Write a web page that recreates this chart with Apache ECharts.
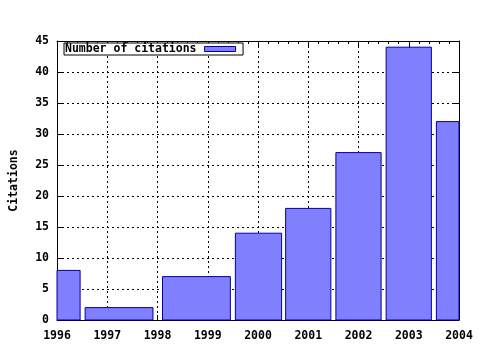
<!DOCTYPE html>
<html>
<head>
<meta charset="utf-8">
<script src="https://cdn.jsdelivr.net/npm/echarts@6/dist/echarts.min.js"></script>
<style>html,body{margin:0;padding:0;background:#fff}#c{width:480px;height:350px}</style>
</head>
<body>
<div id="c"></div>
<script>
// Box extents in years (gnuplot-style boxes) and citation counts
var boxStart = [1995.54, 1996.56, 1998.10, 1999.55, 2000.55, 2001.55, 2002.55, 2003.55];
var boxEnd   = [1996.46, 1997.91, 1999.45, 2000.47, 2001.45, 2002.45, 2003.45, 2004.45];
var citations = [8, 2, 7, 14, 18, 27, 44, 32];
var seriesName = 'Number of citations';
var yTitle = 'Citations';

var FONT = 'DejaVu Sans Mono';
var FS = 11.5;
var data = citations.map(function (v, i) { return [boxStart[i], boxEnd[i], v]; });

var chart = echarts.init(document.getElementById('c'), null, {renderer: 'canvas'});
var grid = {left: 57, right: 21, top: 41, bottom: 30};
var dotted = {color: '#000', width: 1, type: [2, 3]};
var labelStyle = {color: '#000', fontFamily: FONT, fontWeight: 'bold', fontSize: FS};

chart.setOption({
  animation: false,
  backgroundColor: '#fff',
  grid: grid,
  legend: {
    left: 64, top: 43,
    align: 'right',
    orient: 'horizontal',
    backgroundColor: '#fff',
    borderColor: '#000', borderWidth: 1,
    padding: [0, 7, 0, 1],
    itemWidth: 31, itemHeight: 5,
    textStyle: {color: '#000', fontFamily: FONT, fontWeight: 'bold', fontSize: FS, padding: [0, 3, 0, 0], lineHeight: 12},
    data: [{name: seriesName, icon: 'rect', itemStyle: {color: '#8080ff', borderColor: '#0000a0', borderWidth: 1}}]
  },
  xAxis: [{
    type: 'value', min: 1996, max: 2004, interval: 1, position: 'bottom',
    axisLine: {show: true, onZero: false, lineStyle: {color: '#000', width: 1}},
    axisTick: {show: true, inside: true, length: 5, lineStyle: {color: '#000'}},
    minorTick: {show: true, splitNumber: 5, length: 3, lineStyle: {color: '#000'}},
    axisLabel: Object.assign({margin: 10, formatter: function (v) { return String(v); }}, labelStyle),
    splitLine: {show: true, lineStyle: dotted}
  }, {
    type: 'value', min: 1996, max: 2004, interval: 1, position: 'top',
    axisLine: {show: true, onZero: false, lineStyle: {color: '#000', width: 1}},
    axisTick: {show: true, inside: true, length: 5, lineStyle: {color: '#000'}},
    minorTick: {show: true, splitNumber: 5, length: 3, lineStyle: {color: '#000'}},
    axisLabel: {show: false}, splitLine: {show: false}
  }],
  yAxis: [{
    type: 'value', min: 0, max: 45, interval: 5, position: 'left',
    name: yTitle, nameLocation: 'middle', nameRotate: 90, nameGap: 37,
    nameTextStyle: {color: '#000', fontFamily: FONT, fontWeight: 'bold', fontSize: FS},
    axisLine: {show: true, onZero: false, lineStyle: {color: '#000', width: 1}},
    axisTick: {show: true, inside: true, length: 5, lineStyle: {color: '#000'}},
    axisLabel: Object.assign({margin: 8}, labelStyle),
    splitLine: {show: true, lineStyle: dotted}
  }, {
    type: 'value', min: 0, max: 45, interval: 5, position: 'right',
    axisLine: {show: true, onZero: false, lineStyle: {color: '#000', width: 1}},
    axisTick: {show: true, inside: true, length: 5, lineStyle: {color: '#000'}},
    axisLabel: {show: false}, splitLine: {show: false}
  }],
  series: [{
    name: seriesName,
    type: 'custom',
    xAxisIndex: 0, yAxisIndex: 0,
    data: data,
    encode: {x: [0, 1], y: 2},
    renderItem: function (params, api) {
      var p0 = api.coord([api.value(0), 0]);
      var p1 = api.coord([api.value(1), api.value(2)]);
      var rect = {x: p0[0], y: p1[1], width: p1[0] - p0[0], height: p0[1] - p1[1]};
      var clipped = echarts.graphic.clipRectByRect(rect, {
        x: params.coordSys.x, y: params.coordSys.y,
        width: params.coordSys.width, height: params.coordSys.height
      });
      if (!clipped) return;
      return {type: 'rect', shape: clipped,
        style: {fill: '#8080ff', stroke: '#0000a0', lineWidth: 1}};
    },
    z: 5
  }]
});
</script>
</body>
</html>
